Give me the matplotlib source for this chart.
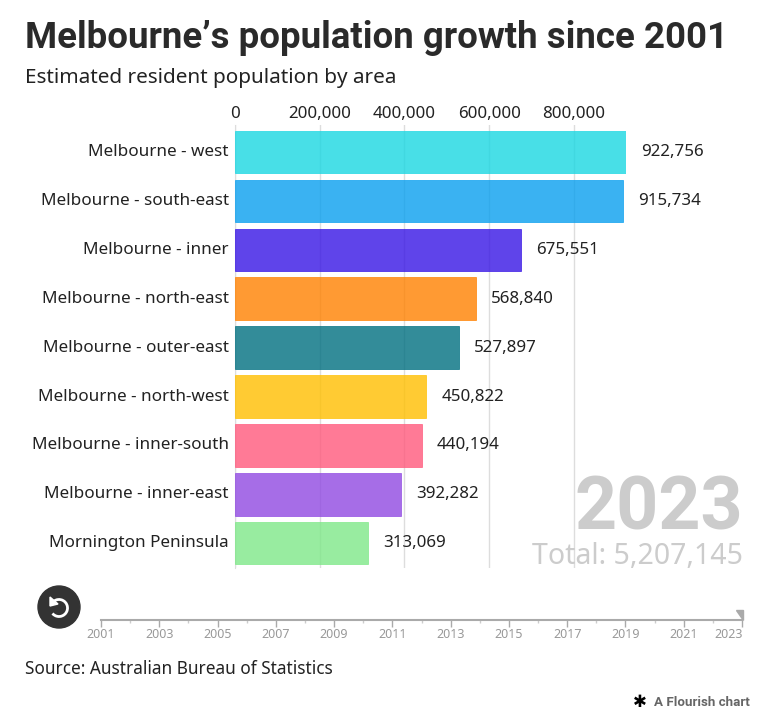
import matplotlib
matplotlib.use('Agg')
import matplotlib.pyplot as plt
from matplotlib.patches import Circle, Arc, Polygon

plt.rcParams['font.family'] = ['Noto Sans', 'DejaVu Sans']

W, H = 768, 715

areas = ['Melbourne - west', 'Melbourne - south-east', 'Melbourne - inner',
         'Melbourne - north-east', 'Melbourne - outer-east', 'Melbourne - north-west',
         'Melbourne - inner-south', 'Melbourne - inner-east', 'Mornington Peninsula']
population = [922756, 915734, 675551, 568840, 527897, 450822, 440194, 392282, 313069]
colors = ['#1ad7e2', '#099fef', '#3715e5', '#ff8100', '#006f80',
          '#ffbf00', '#ff597c', '#9049e2', '#7ee888']
x_ticks = [0, 200000, 400000, 600000, 800000]
years = list(range(2001, 2024))
year_labels = [2001, 2003, 2005, 2007, 2009, 2011, 2013, 2015, 2017, 2019, 2021]


def fx(px):
    return px / W


def fy(py):
    return 1 - py / H


fig = plt.figure(figsize=(W / 100, H / 100), dpi=100, facecolor='white')

# main bars
ax = fig.add_axes([fx(235), fy(568), fx(391), (568 - 125) / H])
ax.set_xlim(0, max(population))
ax.set_ylim(8.507, -0.552)
ax.barh(range(len(areas)), population, height=0.87, color=colors, alpha=0.8,
        edgecolor=colors, linewidth=0.6, zorder=3)
for i, v in enumerate(population):
    ax.annotate(f'{v:,}', (v, i), xytext=(11, 0), textcoords='offset points',
                ha='left', va='center', fontsize=12.2, color='#222222', zorder=5)
ax.set_yticks(range(len(areas)))
ax.set_yticklabels(areas, fontsize=12.3, color='#222222', va='center')
ax.set_xticks(x_ticks)
ax.set_xticklabels([f'{t:,}' for t in x_ticks], fontsize=12.2, color='#222222')
ax.xaxis.tick_top()
ax.tick_params(axis='both', length=0)
ax.tick_params(axis='y', pad=4.5)
ax.tick_params(axis='x', pad=2)
ax.grid(axis='x', color='#dddddd', linewidth=1, zorder=0)
ax.set_axisbelow(True)
for s in ['top', 'right', 'bottom']:
    ax.spines[s].set_visible(False)
ax.spines['left'].set_color('#dddddd')

# titles
fig.text(fx(25), fy(38), 'Melbourne\u2019s population growth since 2001', fontsize=26.4,
         fontweight='bold', family='Roboto', color='#2a2a2a', ha='left', va='center')
fig.text(fx(25), fy(78), 'Estimated resident population by area', fontsize=14.9,
         color='#222222', ha='left', va='center')

# year and total
fig.text(fx(743), fy(509), '2023', fontsize=53, fontweight='bold', family='Roboto',
         color='#cccccc', ha='right', va='center', zorder=6)
fig.text(fx(743), fy(557), 'Total: 5,207,145', fontsize=20.5, color='#cccccc',
         ha='right', va='center', zorder=6)

# timeline
tl = fig.add_axes([fx(101), fy(620), fx(641), 1 / H])
tl.set_xlim(2001, 2023)
tl.set_ylim(0, 1)
tl.patch.set_alpha(0)
for s in ['top', 'left', 'right']:
    tl.spines[s].set_visible(False)
tl.spines['bottom'].set_color('#aaaaaa')
tl.spines['bottom'].set_linewidth(1.5)
tl.set_yticks([])
tl.set_xticks(year_labels + [2023])
tl.set_xticklabels([str(y) for y in year_labels] + [''], fontsize=9, color='#999999')
tl.set_xticks(years, minor=True)
tl.tick_params(axis='x', which='major', length=5, width=1, color='#aaaaaa', pad=1)
tl.tick_params(axis='x', which='minor', length=2.5, width=1, color='#cccccc')
fig.text(fx(743), fy(634), '2023', fontsize=9, color='#999999', ha='right', va='center')

# overlay in pixel coordinates for the button and the marker
ov = fig.add_axes([0, 0, 1, 1])
ov.set_xlim(0, W)
ov.set_ylim(H, 0)
ov.axis('off')
ov.patch.set_alpha(0)
ov.add_patch(Polygon([[736, 610], [743, 610], [743, 620]], closed=True, color='#aaaaaa'))
ov.add_patch(Circle((59, 607), 21, color='#333333'))
ov.add_patch(Arc((59, 608), 17, 17, theta1=-150, theta2=140, color='white', linewidth=2))
ov.add_patch(Polygon([[50, 597], [50, 606], [58, 604]], closed=True, color='white'))

# footer
fig.text(fx(25), fy(669), 'Source: Australian Bureau of Statistics', fontsize=12.4,
         color='#222222', ha='left', va='center')
fig.text(fx(640), fy(702), '\u2731', fontsize=12, color='black', ha='center', va='center',
         family='DejaVu Sans')
fig.text(fx(750), fy(702), 'A Flourish chart', fontsize=9.6, fontweight='bold', family='Roboto',
         color='#666666', ha='right', va='center')

fig.savefig('out.png', dpi=100)
